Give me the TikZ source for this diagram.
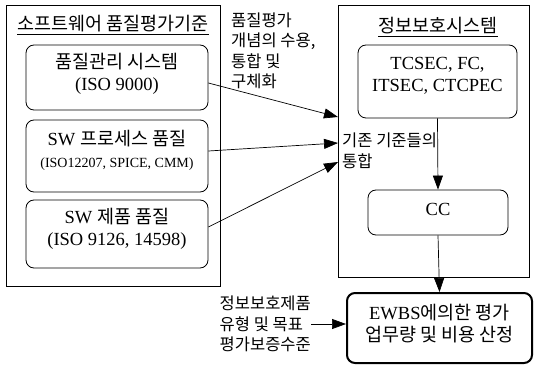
\documentclass[tikz,border=0pt]{standalone}
\usepackage{fontspec}
\setmainfont{Liberation Serif}
\newfontfamily\kr{Noto Sans CJK KR}
\usetikzlibrary{arrows.meta,calc}
\begin{document}
\begin{tikzpicture}[x=1pt,y=-1pt,
  frame/.style={draw, line width=0.8pt, inner sep=0pt},
  rbox/.style={draw, line width=0.8pt, rounded corners=8pt, inner sep=0pt},
  txt/.style={align=center, inner sep=0pt, font=\fontsize{18.5}{22}\selectfont},
  ttl/.style={inner sep=0pt, font=\fontsize{18.5}{22}\selectfont\kr},
  ltxt/.style={align=left, inner sep=0pt, font=\fontsize{16.5}{20.5}\selectfont\kr},
  arr/.style={-{Triangle[length=14pt,width=10pt]}, line width=0.7pt}]
\useasboundingbox (0,0) rectangle (535,366);
% outer frames
\node[frame, minimum width=214pt, minimum height=281pt] (lf) at (113,145.5) {};
\node[frame, minimum width=191pt, minimum height=272pt] (rf) at (433.5,141) {};
% titles
\node[ttl] (lt) at (113,25) {\underline{소프트웨어 품질평가기준}};
\node[ttl] (rt) at (438,27) {\underline{정보보호시스템}};
% left boxes
\node[rbox, minimum width=182pt, minimum height=65pt] (b1) at (117,77.5) {};
\node[txt] (b1t) at (117,74) {{\kr 품질관리 시스템}\\(ISO 9000)};
\node[rbox, minimum width=182pt, minimum height=72pt] (b2) at (117,156) {};
\node[txt] (b2t) at (117,150) {SW {\kr 프로세스 품질}\\{\fontsize{14}{22}\selectfont(ISO12207, SPICE, CMM)}};
\node[rbox, minimum width=182pt, minimum height=68pt] (b3) at (117,234) {};
\node[txt] (b3t) at (117,229) {SW {\kr 제품 품질}\\(ISO 9126, 14598)};
% right boxes
\node[rbox, minimum width=159pt, minimum height=73pt] (tc) at (437.5,81.5) {};
\node[txt] (tct) at (437.5,76) {TCSEC, FC,\\ITSEC, CTCPEC};
\node[rbox, minimum width=140pt, minimum height=45pt] (cc) at (438,212.5) {};
\node[txt] (cct) at (438,209) {CC};
\node[rbox, line width=2pt, minimum width=185pt, minimum height=70pt] (ew) at (439.5,328) {};
\node[txt] (ewt) at (439.5,324) {EWBS{\kr 에의한 평가}\\{\kr 업무량 및 비용 산정}};
% annotations
\node[ltxt, anchor=west] (a1) at (231,51) {품질평가\\개념의 수용,\\통합 및\\구체화};
\node[ltxt, anchor=west] (a2) at (342,151) {기존 기준들의\\통합};
\node[ltxt, anchor=east] (a3) at (311,324) {정보보호제품\\유형 및 목표\\평가보증수준};
% connectors
\coordinate (p1) at (338,117);
\coordinate (p2) at (338,143);
\coordinate (p3) at (338,162);
\draw[arr] ($(b1.east)+(0,5.5)$) -- (p1);
\draw[arr] ($(b2.east)+(0,-5)$) -- (p2);
\draw[arr] ($(b3.east)+(0,-7)$) -- (p3);
\draw[arr] (tc.south) -- (cc.north);
\draw[arr] (cc.south) -- (ew.north);
\draw[arr] (a3.east) -- (a3.east -| ew.west);
\end{tikzpicture}
\end{document}
